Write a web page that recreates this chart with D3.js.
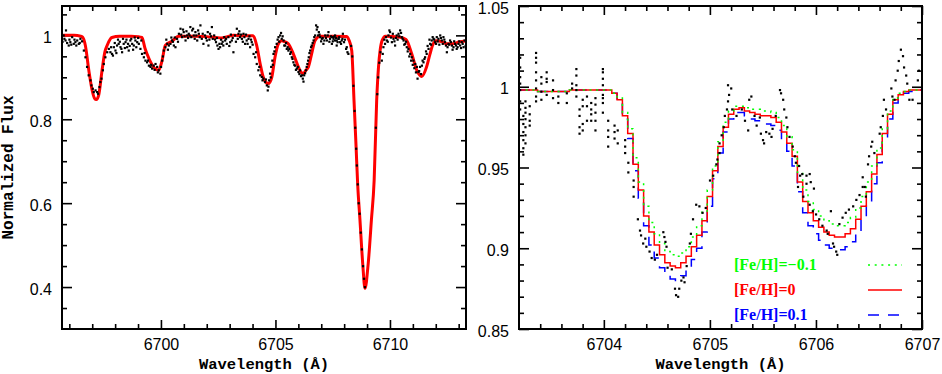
<!DOCTYPE html>
<html><head><meta charset="utf-8">
<script src="https://cdn.jsdelivr.net/npm/d3@7/dist/d3.min.js"></script>
<style>body{margin:0;background:#fff}</style>
</head><body>
<svg id="c" width="942" height="374"></svg>
<script>
// ---------- DATA ----------
const leftTicksX = [6700, 6705, 6710];
const leftTicksY = [0.4, 0.6, 0.8, 1];
const leftTickLabelsY = ["0.4", "0.6", "0.8", "1"];
const rightTicksX = [6704, 6705, 6706, 6707];
const rightTicksY = [0.85, 0.9, 0.95, 1, 1.05];
const rightTickLabelsY = ["0.85", "0.9", "0.95", "1", "1.05"];
const legendLabels = ["[Fe/H]=\u22120.1", "[Fe/H]=0", "[Fe/H]=0.1"];
const legendColors = ["#00ff00", "#ff0000", "#0000ff"];

const modelLeftWave = [6695.60,6696.20,6696.50,6696.58,6696.70,6696.85,6697.00,6697.10,6697.18,6697.28,6697.43,6697.55,6697.65,6697.86,6698.20,6698.70,6699.00,6699.17,6699.30,6699.39,6699.61,6699.78,6699.90,6700.05,6700.19,6700.48,6700.78,6701.50,6702.00,6702.40,6702.65,6702.90,6703.16,6703.60,6704.03,6704.18,6704.33,6704.47,6704.58,6704.69,6704.84,6704.98,6705.13,6705.27,6705.40,6705.56,6705.78,6706.00,6706.12,6706.22,6706.33,6706.44,6706.58,6706.73,6706.95,6707.50,6708.10,6708.20,6708.33,6708.43,6708.52,6708.59,6708.69,6708.81,6708.91,6709.05,6709.19,6709.31,6709.42,6709.50,6709.57,6709.66,6709.80,6710.40,6710.70,6710.95,6711.17,6711.39,6711.60,6711.75,6711.89,6712.04,6712.25,6712.48,6712.77,6713.00,6713.40];
const modelLeftFlux = [1.000,1.000,0.998,0.996,0.976,0.917,0.868,0.850,0.847,0.857,0.917,0.960,0.976,0.995,0.998,0.998,0.997,0.995,0.970,0.956,0.930,0.919,0.917,0.940,0.976,0.986,0.998,0.998,0.997,0.995,0.994,0.997,1.000,0.999,0.999,0.976,0.933,0.900,0.888,0.885,0.900,0.948,0.980,0.987,0.985,0.980,0.956,0.925,0.912,0.909,0.917,0.925,0.956,0.988,0.998,0.998,0.997,0.990,0.964,0.845,0.735,0.645,0.560,0.456,0.397,0.456,0.560,0.655,0.845,0.925,0.964,0.988,0.998,0.996,0.990,0.956,0.917,0.902,0.925,0.956,0.980,0.987,0.985,0.980,0.980,0.984,0.987];

const obsLeft = [
[6695.75,1.000],[6695.83,0.988],[6695.85,1.012],[6695.97,0.976],[6696.04,0.984],[6696.12,0.996],[6696.19,0.980],[6696.26,0.984],[6696.34,0.988],[6696.41,0.980],[6696.48,0.992],[6696.55,0.986],
[6695.70,0.985],[6695.78,0.992],[6695.90,0.982],[6696.00,0.990],[6696.08,0.978],[6696.22,0.990],[6696.30,0.976],[6696.45,0.982],
[6696.63,0.964],[6696.70,0.948],[6696.77,0.925],[6696.84,0.905],[6696.92,0.893],[6696.96,0.881],[6697.02,0.873],[6697.06,0.865],[6697.14,0.869],[6697.21,0.865],[6697.25,0.861],[6697.31,0.877],[6697.35,0.889],[6697.40,0.897],[6697.46,0.917],[6697.50,0.932],[6697.57,0.948],[6697.65,0.960],[6697.72,0.968],
[6697.79,0.960],[6697.86,0.956],[6697.94,0.972],[6698.01,0.964],[6698.08,0.976],[6698.15,0.980],[6698.23,0.972],[6698.30,0.960],[6698.37,0.980],[6698.45,0.984],[6698.52,0.972],[6698.59,0.964],[6698.66,0.988],[6698.74,0.980],[6698.81,0.976],[6698.88,0.988],[6698.96,0.984],[6699.03,0.980],[6699.10,0.968],[6699.14,0.988],
[6697.82,0.972],[6697.90,0.952],[6697.98,0.982],[6698.05,0.958],[6698.12,0.990],[6698.20,0.985],[6698.27,0.968],[6698.34,0.992],[6698.42,0.970],[6698.49,0.990],[6698.56,0.980],[6698.63,0.975],[6698.70,0.992],[6698.78,0.966],[6698.85,0.995],[6698.92,0.972],[6699.00,0.994],
[6699.17,0.956],[6699.25,0.948],[6699.32,0.940],[6699.39,0.936],[6699.47,0.928],[6699.54,0.925],[6699.61,0.921],[6699.68,0.928],[6699.76,0.932],[6699.83,0.925],[6699.90,0.917],[6699.97,0.909],[6700.05,0.940],[6700.12,0.964],[6700.19,0.972],[6700.27,0.980],[6700.34,0.976],[6700.41,0.980],[6700.48,0.988],[6700.56,0.976],[6700.63,0.972],
[6699.28,0.958],[6699.43,0.940],[6699.57,0.930],[6699.72,0.918],[6699.86,0.912],[6700.00,0.925],[6700.08,0.950],
[6700.70,0.992],[6700.78,1.004],[6700.85,1.016],[6700.92,0.996],[6700.99,1.008],[6701.07,0.988],[6701.14,1.000],[6701.21,1.004],[6701.28,1.020],[6701.36,1.012],[6701.43,1.000],[6701.50,1.008],[6701.58,0.988],[6701.65,1.004],[6701.72,1.024],
[6700.23,0.990],[6700.30,0.966],[6700.45,0.995],[6700.52,0.985],[6700.60,0.995],[6700.74,0.985],[6700.88,1.002],[6700.96,1.014],[6701.03,0.998],[6701.11,1.010],[6701.18,0.994],[6701.25,1.000],[6701.32,0.996],[6701.40,1.016],[6701.47,0.992],[6701.54,1.000],[6701.62,1.012],[6701.69,0.996],
[6701.78,0.992],[6701.85,0.980],[6701.92,1.000],[6702.00,0.988],[6702.07,0.976],[6702.14,1.004],[6702.22,1.020],[6702.26,0.992],[6702.32,1.000],[6702.40,0.984],[6702.46,0.976],[6702.51,0.968],[6702.58,0.972],[6702.65,0.980],[6702.72,0.976],[6702.80,0.988],[6702.87,0.980],[6702.94,0.996],[6703.02,0.984],[6703.09,0.988],[6703.16,0.960],[6703.23,1.000],[6703.31,1.016],[6703.38,1.004],[6703.45,0.996],[6703.53,0.992],[6703.60,1.004],[6703.67,0.980],[6703.74,0.988],[6703.82,0.992],[6703.89,0.972],[6703.96,0.984],[6704.04,0.956],
[6701.82,1.004],[6701.96,0.994],[6702.04,1.008],[6702.11,0.990],[6702.18,0.998],[6702.36,0.990],[6702.44,0.994],[6702.55,0.980],[6702.62,0.990],[6702.69,0.985],[6702.76,0.996],[6702.84,0.992],[6702.98,0.975],[6703.05,1.002],[6703.13,0.994],[6703.27,0.985],[6703.35,0.992],[6703.42,1.010],[6703.49,1.002],[6703.57,0.985],[6703.64,0.996],[6703.71,1.002],[6703.78,0.980],[6703.86,0.998],[6703.93,0.990],[6704.00,0.978],
[6704.11,0.948],[6704.18,0.932],[6704.25,0.917],[6704.33,0.905],[6704.40,0.901],[6704.47,0.897],[6704.54,0.889],[6704.62,0.881],[6704.66,0.869],[6704.72,0.893],[6704.76,0.909],[6704.81,0.925],[6704.86,0.940],[6704.91,0.956],[6704.98,0.972],[6705.05,0.980],[6705.13,0.996],[6705.20,1.000],[6705.27,0.992],[6705.35,0.988],[6705.42,0.976],[6705.49,0.968],[6705.56,0.964],[6705.64,0.956],[6705.71,0.948],[6705.78,0.936],[6705.85,0.928],[6705.93,0.921],[6706.00,0.913],[6706.07,0.917],[6706.15,0.905],[6706.19,0.897],[6706.25,0.905],[6706.33,0.917],[6706.39,0.932],[6706.45,0.948],[6706.51,0.964],[6706.58,0.976],[6706.66,0.988],[6706.73,1.000],
[6704.15,0.960],[6704.29,0.925],[6704.43,0.893],[6704.58,0.895],[6704.69,0.878],[6704.79,0.900],[6704.88,0.930],[6704.95,0.962],[6705.09,0.990],[6705.16,0.985],[6705.24,1.006],[6705.31,0.998],[6705.38,0.976],[6705.46,0.982],[6705.53,0.972],[6705.60,0.968],[6705.67,0.960],[6705.74,0.944],[6705.82,0.930],[6705.89,0.918],[6705.97,0.925],[6706.04,0.908],[6706.11,0.903],[6706.22,0.890],[6706.29,0.910],[6706.36,0.925],[6706.42,0.940],[6706.48,0.958],[6706.55,0.972],[6706.62,0.982],[6706.69,0.996],
[6706.77,1.024],[6706.83,1.020],[6706.89,1.008],[6706.95,0.996],[6707.02,0.992],[6707.09,0.980],[6707.17,1.000],[6707.24,0.988],[6707.31,1.008],[6707.38,0.992],[6707.46,0.980],[6707.53,0.996],[6707.60,0.988],[6707.67,0.976],[6707.75,0.992],
[6706.80,1.014],[6706.86,1.000],[6706.92,1.002],[6706.99,0.986],[6707.06,0.994],[6707.13,0.988],[6707.20,0.994],[6707.28,1.000],[6707.35,0.985],[6707.42,0.998],[6707.50,0.986],[6707.57,0.998],[6707.64,0.994],[6707.71,0.984],[6707.78,0.996],[6707.86,0.980],[6707.92,0.992],[6708.03,0.990],[6708.11,0.972],
[6707.46,0.996],[6707.53,0.992],[6707.60,1.000],[6707.67,0.988],[6707.75,0.992],[6707.82,0.984],[6707.89,0.988],[6707.94,1.004],[6707.99,0.984],[6708.08,0.968],[6708.14,0.960],[6708.18,0.956],
[6708.30,0.975],[6708.35,0.950],[6708.40,0.880],[6708.45,0.820],[6708.48,0.780],[6708.52,0.730],[6708.55,0.690],[6708.59,0.645],[6708.63,0.600],[6708.67,0.575],[6708.72,0.530],[6708.77,0.490],[6708.82,0.450],[6708.86,0.420],[6708.90,0.400],
[6709.38,0.780],[6709.44,0.860],[6709.48,0.900],[6709.53,0.935],[6709.58,0.960],
[6709.64,0.940],[6709.68,0.956],[6709.71,0.972],[6709.78,0.980],[6709.86,0.988],[6709.93,1.000],[6710.00,1.008],[6710.08,0.984],[6710.15,0.992],[6710.22,0.976],[6710.29,1.000],[6710.37,1.004],[6710.44,1.012],[6710.51,0.996],[6710.59,0.988],[6710.66,0.980],[6710.73,0.972],[6710.80,0.968],[6710.88,0.956],[6710.95,0.948],[6711.02,0.940],[6711.10,0.932],[6711.17,0.925],[6711.20,0.897],[6711.24,0.913],[6711.31,0.925],[6711.39,0.928],[6711.46,0.936],[6711.53,0.948],[6711.60,0.956],[6711.68,0.968],[6711.75,0.980],[6711.82,0.988],[6711.90,0.992],[6711.97,0.984],[6712.04,0.996],[6712.11,0.992],[6712.19,1.000],[6712.26,0.988],[6712.33,0.996],[6712.40,0.984],[6712.48,0.960],[6712.55,0.980],[6712.62,0.988],[6712.70,0.976],[6712.77,0.972],[6712.84,0.980],[6712.91,0.968],[6712.99,0.980],[6713.06,0.976],[6713.13,0.984],[6713.21,0.972],
[6709.75,0.990],[6709.82,0.996],[6709.90,0.985],[6709.97,1.012],[6710.04,0.995],[6710.12,1.004],[6710.19,0.986],[6710.26,0.994],[6710.33,0.990],[6710.40,0.998],[6710.48,1.006],[6710.55,0.992],[6710.62,0.978],[6710.70,0.985],[6710.77,0.962],[6710.84,0.950],[6710.92,0.940],[6710.99,0.930],[6711.06,0.922],[6711.13,0.912],[6711.27,0.915],[6711.35,0.908],[6711.42,0.940],[6711.50,0.944],[6711.57,0.962],[6711.64,0.975],[6711.72,0.990],[6711.79,0.978],[6711.86,0.996],[6711.93,0.990],[6712.01,0.980],[6712.08,0.986],[6712.15,0.978],[6712.22,0.994],[6712.30,0.980],[6712.37,0.990],[6712.44,0.976],[6712.51,0.972],[6712.58,0.978],[6712.66,0.984],[6712.73,0.966],[6712.80,0.986],[6712.88,0.976],[6712.95,0.972],[6713.02,0.986],[6713.10,0.970],[6713.17,0.980],[6713.25,0.988],[6713.30,0.975]
];

const modelRightWave = [6703.20,6703.25,6703.30,6703.35,6703.40,6703.45,6703.50,6703.55,6703.60,6703.65,6703.70,6703.75,6703.80,6703.85,6703.90,6703.95,6704.00,6704.05,6704.10,6704.15,6704.20,6704.25,6704.30,6704.35,6704.40,6704.45,6704.50,6704.55,6704.60,6704.65,6704.70,6704.75,6704.80,6704.85,6704.90,6704.95,6705.00,6705.05,6705.10,6705.15,6705.20,6705.25,6705.30,6705.35,6705.40,6705.45,6705.50,6705.55,6705.60,6705.65,6705.70,6705.75,6705.80,6705.85,6705.90,6705.95,6706.00,6706.05,6706.10,6706.15,6706.20,6706.25,6706.30,6706.35,6706.40,6706.45,6706.50,6706.55,6706.60,6706.65,6706.70,6706.75,6706.80,6706.85,6706.90,6706.95,6707.00];
const modelFeM01 = [0.998,0.998,0.998,0.998,0.997,0.997,0.997,0.997,0.997,0.997,0.998,0.998,0.998,0.998,0.998,0.998,0.998,0.998,0.996,0.993,0.984,0.974,0.956,0.941,0.926,0.916,0.909,0.903,0.898,0.896,0.895,0.897,0.901,0.907,0.914,0.923,0.936,0.951,0.966,0.978,0.985,0.988,0.988,0.987,0.986,0.986,0.985,0.985,0.984,0.981,0.976,0.969,0.961,0.947,0.936,0.929,0.924,0.920,0.917,0.915,0.914,0.914,0.916,0.919,0.925,0.932,0.941,0.951,0.962,0.974,0.985,0.993,0.996,0.997,0.998,0.998,0.998];
const modelFe0 = [0.998,0.998,0.998,0.998,0.997,0.997,0.997,0.997,0.997,0.997,0.998,0.998,0.998,0.998,0.998,0.998,0.998,0.998,0.996,0.992,0.982,0.971,0.952,0.936,0.920,0.910,0.902,0.896,0.891,0.889,0.888,0.891,0.895,0.901,0.908,0.917,0.932,0.948,0.963,0.975,0.983,0.986,0.987,0.985,0.984,0.983,0.982,0.982,0.981,0.978,0.972,0.965,0.957,0.941,0.929,0.922,0.917,0.913,0.910,0.908,0.907,0.907,0.909,0.912,0.918,0.926,0.935,0.946,0.958,0.971,0.983,0.992,0.995,0.997,0.998,0.998,0.998];
const modelFeP01 = [0.998,0.998,0.998,0.998,0.997,0.997,0.997,0.997,0.997,0.997,0.998,0.998,0.998,0.998,0.998,0.998,0.998,0.998,0.996,0.991,0.980,0.968,0.948,0.931,0.914,0.902,0.894,0.888,0.884,0.881,0.880,0.883,0.887,0.893,0.900,0.910,0.926,0.943,0.959,0.972,0.980,0.984,0.984,0.982,0.980,0.979,0.978,0.977,0.976,0.973,0.967,0.960,0.951,0.935,0.922,0.914,0.909,0.905,0.902,0.900,0.899,0.899,0.901,0.904,0.910,0.918,0.928,0.940,0.953,0.967,0.980,0.990,0.994,0.996,0.997,0.998,0.998];

const obsRight = [
[6703.21,1.018],[6703.21,1.012],[6703.21,1.006],[6703.21,1.002],[6703.21,0.998],[6703.21,0.991],[6703.21,0.986],
[6703.24,0.982],[6703.24,0.977],[6703.24,0.972],[6703.24,0.967],[6703.24,0.962],[6703.24,0.958],
[6703.26,0.991],[6703.26,0.987],[6703.26,0.984],[6703.26,0.980],[6703.26,0.975],[6703.26,0.970],[6703.26,0.965],
[6703.30,0.988],[6703.30,0.983],[6703.30,0.979],[6703.30,0.976],
[6703.36,1.021],[6703.36,1.018],[6703.36,1.015],[6703.36,1.009],[6703.36,1.004],[6703.36,0.999],[6703.36,0.994],[6703.36,0.991],
[6703.41,1.006],[6703.41,1.002],[6703.41,0.997],[6703.41,0.992],
[6703.46,1.009],[6703.46,1.005],[6703.46,1.003],[6703.46,0.995],
[6703.52,1.004],[6703.52,0.998],[6703.52,0.993],
[6703.57,0.994],[6703.57,0.990],
[6703.65,0.996],[6703.65,0.990],
[6703.70,1.002],[6703.70,0.999],
[6703.74,1.011],[6703.74,1.007],[6703.74,1.001],[6703.74,0.998],[6703.74,0.994],
[6703.77,0.986],[6703.77,0.982],[6703.77,0.975],[6703.77,0.971],
[6703.80,0.992],[6703.80,0.988],[6703.80,0.977],[6703.80,0.973],
[6703.84,0.994],[6703.84,0.988],[6703.84,0.979],
[6703.88,0.990],[6703.88,0.986],[6703.88,0.983],[6703.88,0.979],
[6703.92,0.993],[6703.92,0.989],[6703.92,0.984],[6703.92,0.979],[6703.92,0.973],
[6703.99,1.011],[6703.99,1.009],[6703.99,1.005],[6703.99,1.001],[6703.99,0.995],[6703.99,0.993],[6703.99,0.990],[6703.99,0.984],
[6704.04,0.979],[6704.04,0.973],[6704.04,0.969],[6704.04,0.963],
[6704.10,0.976],[6704.10,0.972],[6704.10,0.968],
[6704.13,0.973],[6704.13,0.965],
[6704.20,0.967],[6704.20,0.963],[6704.20,0.959],
[6704.23,0.953],[6704.23,0.947],
[6704.28,0.942],[6704.28,0.938],[6704.28,0.932],
[6704.32,0.918],[6704.34,0.911],[6704.35,0.908],[6704.37,0.903],[6704.39,0.906],[6704.40,0.901],[6704.43,0.898],[6704.45,0.894],[6704.48,0.893],[6704.50,0.896],
[6704.56,0.910],[6704.57,0.907],[6704.58,0.904],[6704.59,0.901],[6704.60,0.888],[6704.64,0.887],[6704.67,0.875],[6704.68,0.871],[6704.70,0.870],[6704.71,0.875],[6704.73,0.880],[6704.75,0.882],[6704.76,0.879],
[6704.78,0.889],[6704.81,0.903],[6704.82,0.909],[6704.84,0.918],[6704.87,0.927],[6704.90,0.926],[6704.93,0.922],[6704.96,0.925],
[6705.00,0.942],[6705.03,0.945],[6705.06,0.952],[6705.07,0.955],[6705.09,0.959],[6705.09,0.965],[6705.11,0.970],[6705.13,0.975],[6705.14,0.982],[6705.16,0.986],[6705.17,0.991],[6705.18,0.995],[6705.20,0.999],[6705.17,1.001],
[6705.21,0.986],[6705.25,0.982],[6705.30,0.986],[6705.33,0.979],[6705.36,0.973],[6705.37,0.992],[6705.39,0.994],[6705.42,0.982],[6705.44,0.976],[6705.47,0.981],[6705.48,0.971],[6705.50,0.967],[6705.51,0.965],[6705.53,0.972],[6705.56,0.971],[6705.58,0.969],[6705.59,0.974],
[6705.62,0.982],[6705.66,0.998],[6705.67,0.996],[6705.69,0.992],[6705.70,0.986],[6705.72,0.981],[6705.73,0.975],[6705.75,0.969],[6705.78,0.963],[6705.80,0.957],[6705.81,0.953],[6705.84,0.951],[6705.85,0.945],[6705.87,0.946],[6705.91,0.945],[6705.94,0.946],[6705.95,0.941],[6705.98,0.937],
[6705.83,0.938],[6705.88,0.932],[6705.91,0.940],[6705.94,0.927],[6705.97,0.923],[6706.00,0.921],[6706.03,0.918],[6706.06,0.914],[6706.10,0.911],[6706.11,0.909],[6706.14,0.923],[6706.16,0.903],[6706.17,0.901],[6706.19,0.898],[6706.20,0.896],[6706.22,0.915],[6706.25,0.919],[6706.28,0.922],[6706.31,0.924],[6706.35,0.926],[6706.38,0.930],[6706.41,0.933],[6706.44,0.938],[6706.47,0.932],
[6706.44,0.944],[6706.46,0.938],[6706.49,0.952],[6706.50,0.957],[6706.52,0.963],[6706.53,0.966],[6706.55,0.959],[6706.60,0.971],[6706.61,0.975],[6706.63,0.982],[6706.64,0.992],[6706.66,0.986],[6706.71,0.999],[6706.72,0.994],[6706.74,0.992],[6706.75,1.004],[6706.77,1.010],[6706.78,1.016],[6706.80,1.023],[6706.82,1.019],[6706.83,1.012],[6706.85,1.007],[6706.86,1.002],[6706.88,0.992],[6706.91,0.992],[6706.96,1.004],[6706.97,1.010]
];

// ---------- CHART ----------
const svg = d3.select("#c");
const tickFont = "'Liberation Sans', Arial, sans-serif";
const titleFont = "'Liberation Mono', 'Courier New', monospace";

function panel(cfg) {
  const g = svg.append("g");
  const x = d3.scaleLinear().domain(cfg.xd).range([cfg.x0, cfg.x1]);
  const y = d3.scaleLinear().domain(cfg.yd).range([cfg.y1, cfg.y0]);
  const clipId = "clip" + cfg.id;
  svg.append("clipPath").attr("id", clipId).append("rect")
    .attr("x", cfg.x0).attr("y", cfg.y0).attr("width", cfg.x1 - cfg.x0).attr("height", cfg.y1 - cfg.y0);

  const near = (a, b) => Math.abs(a - b) < 1e-6;
  const minorX = cfg.minorX.filter(v => !cfg.majorX.some(m => near(m, v)));
  const minorY = cfg.minorY.filter(v => !cfg.majorY.some(m => near(m, v)));

  const axB = g.append("g").attr("transform", `translate(0,${cfg.y1})`)
    .call(d3.axisBottom(x).tickValues(cfg.majorX).tickSize(-9).tickPadding(10).tickFormat(d3.format("d")));
  const axBm = g.append("g").attr("transform", `translate(0,${cfg.y1})`)
    .call(d3.axisBottom(x).tickValues(minorX).tickSize(-5).tickFormat(""));
  const axT = g.append("g").attr("transform", `translate(0,${cfg.y0})`)
    .call(d3.axisTop(x).tickValues(cfg.majorX).tickSize(-9).tickFormat(""));
  const axTm = g.append("g").attr("transform", `translate(0,${cfg.y0})`)
    .call(d3.axisTop(x).tickValues(minorX).tickSize(-5).tickFormat(""));
  const axL = g.append("g").attr("transform", `translate(${cfg.x0},0)`)
    .call(d3.axisLeft(y).tickValues(cfg.majorY).tickSize(-10).tickPadding(10)
      .tickFormat((d, i) => cfg.labelsY[i]));
  const axLm = g.append("g").attr("transform", `translate(${cfg.x0},0)`)
    .call(d3.axisLeft(y).tickValues(minorY).tickSize(-5).tickFormat(""));
  const axR = g.append("g").attr("transform", `translate(${cfg.x1},0)`)
    .call(d3.axisRight(y).tickValues(cfg.majorY).tickSize(-10).tickFormat(""));
  const axRm = g.append("g").attr("transform", `translate(${cfg.x1},0)`)
    .call(d3.axisRight(y).tickValues(minorY).tickSize(-5).tickFormat(""));
  [axB, axBm, axT, axTm, axL, axLm, axR, axRm].forEach(a => {
    a.select(".domain").remove();
    a.selectAll("line").attr("stroke", "#000").attr("stroke-width", 1.6);
    a.selectAll("text").attr("font-family", tickFont).attr("font-size", 16).attr("fill", "#000");
  });
  axL.selectAll("text").attr("dy", "0.44em");

  const plot = g.append("g").attr("clip-path", `url(#${clipId})`);
  cfg.draw(plot, x, y);

  g.append("rect").attr("x", cfg.x0).attr("y", cfg.y0)
    .attr("width", cfg.x1 - cfg.x0).attr("height", cfg.y1 - cfg.y0)
    .attr("fill", "none").attr("stroke", "#000").attr("stroke-width", 2);

  g.append("text").attr("x", (cfg.x0 + cfg.x1) / 2).attr("y", 369)
    .attr("text-anchor", "middle").attr("font-family", titleFont).attr("font-weight", "bold")
    .attr("font-size", 15.5).text("Wavelength (\u00C5)");
  return { x, y };
}

panel({
  id: "L", x0: 62, x1: 466, y0: 6, y1: 329,
  xd: [6695.68, 6713.32], yd: [0.3, 1.07],
  majorX: leftTicksX, minorX: d3.range(6696, 6714, 1),
  majorY: leftTicksY, minorY: d3.range(0.35, 1.06, 0.05).map(v => +v.toFixed(2)),
  labelsY: leftTickLabelsY,
  draw: (p, x, y) => {
    const line = d3.line().x((d, i) => x(modelLeftWave[i])).y(d => y(d)).curve(d3.curveMonotoneX);
    p.append("path").datum(modelLeftFlux).attr("d", line)
      .attr("fill", "none").attr("stroke", "#ff0000").attr("stroke-width", 3);
    p.selectAll("rect.obs").data(obsLeft).enter().append("rect").attr("class", "obs")
      .attr("x", d => x(d[0]) - 1).attr("y", d => y(d[1]) - 1)
      .attr("width", 2.2).attr("height", 2.2).attr("fill", "#000");
  }
});

panel({
  id: "R", x0: 519, x1: 922, y0: 6, y1: 329,
  xd: [6703.2, 6707], yd: [0.85, 1.05],
  majorX: rightTicksX, minorX: d3.range(6703.4, 6707, 0.2).map(v => +v.toFixed(1)),
  majorY: rightTicksY, minorY: d3.range(0.86, 1.05, 0.01).map(v => +v.toFixed(2)),
  labelsY: rightTickLabelsY,
  draw: (p, x, y) => {
    const mk = d3.line().x((d, i) => x(modelRightWave[i])).y(d => y(d)).curve(d3.curveStep);
    p.append("path").datum(modelFeP01).attr("d", mk).attr("fill", "none")
      .attr("stroke", legendColors[2]).attr("stroke-width", 1.5).attr("stroke-dasharray", "11,9");
    p.append("path").datum(modelFe0).attr("d", mk).attr("fill", "none")
      .attr("stroke", legendColors[1]).attr("stroke-width", 1.5);
    p.append("path").datum(modelFeM01).attr("d", mk).attr("fill", "none")
      .attr("stroke", legendColors[0]).attr("stroke-width", 1.5).attr("stroke-dasharray", "2,4.7");
    p.selectAll("rect.obs").data(obsRight).enter().append("rect").attr("class", "obs")
      .attr("x", d => x(d[0]) - 1).attr("y", d => y(d[1]) - 1)
      .attr("width", 2.2).attr("height", 2.2).attr("fill", "#000");
  }
});

const legY = [264, 289, 314];
const dashes = ["2,4.7", null, "11,9"];
legendLabels.forEach((lab, i) => {
  svg.append("text").attr("x", 734).attr("y", legY[i] + 5.5)
    .attr("font-family", "'Liberation Serif', 'Times New Roman', serif").attr("font-weight", "bold")
    .attr("font-size", 16).attr("fill", legendColors[i]).text(lab);
  const l = svg.append("line").attr("x1", 868).attr("x2", 902).attr("y1", legY[i] + 1).attr("y2", legY[i] + 1)
    .attr("stroke", legendColors[i]).attr("stroke-width", 1.5);
  if (dashes[i]) l.attr("stroke-dasharray", dashes[i]);
});

svg.append("text").attr("transform", "translate(13,167.5) rotate(-90)")
  .attr("text-anchor", "middle").attr("font-family", titleFont).attr("font-weight", "bold")
  .attr("font-size", 16).text("Normalized Flux");
</script>
</body></html>
